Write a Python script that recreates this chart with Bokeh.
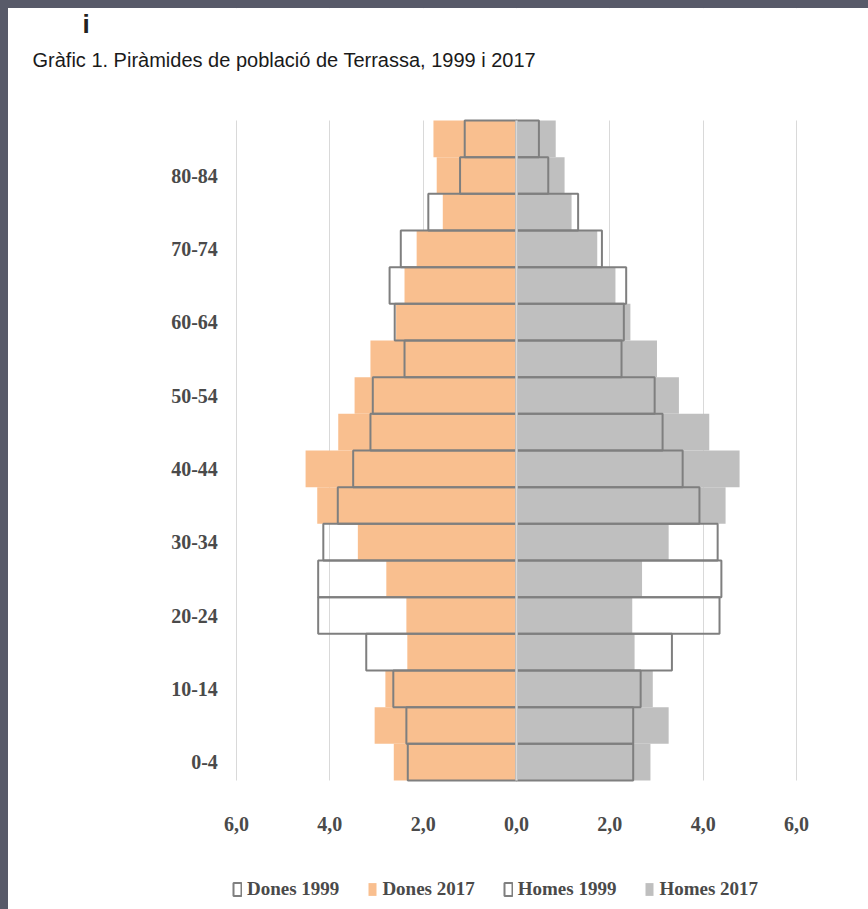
from bokeh.plotting import figure
from bokeh.models import (Range1d, FixedTicker, Legend, LegendItem, Label,
                          BoxAnnotation, ColumnDataSource)
from bokeh.embed import file_html
from bokeh.resources import INLINE

# ---- data (percent of population), index 0 = youngest group ----
age_groups = ["0-4", "5-9", "10-14", "15-19", "20-24", "25-29", "30-34", "35-39",
              "40-44", "45-49", "50-54", "55-59", "60-64", "65-69", "70-74",
              "75-79", "80-84", "85+"]
dones_1999 = [2.33, 2.36, 2.64, 3.22, 4.25, 4.25, 4.14, 3.83, 3.50, 3.13, 3.08,
              2.40, 2.61, 2.72, 2.48, 1.89, 1.21, 1.11]
dones_2017 = [2.63, 3.04, 2.81, 2.34, 2.36, 2.79, 3.40, 4.27, 4.52, 3.82, 3.47,
              3.13, 2.58, 2.40, 2.14, 1.58, 1.71, 1.78]
homes_1999 = [2.50, 2.50, 2.66, 3.33, 4.35, 4.39, 4.31, 3.92, 3.56, 3.13, 2.96,
              2.25, 2.30, 2.35, 1.83, 1.32, 0.68, 0.48]
homes_2017 = [2.87, 3.26, 2.92, 2.53, 2.48, 2.69, 3.26, 4.48, 4.78, 4.13, 3.48,
              3.01, 2.44, 2.12, 1.73, 1.18, 1.03, 0.84]
x_ticks = [-6, -4, -2, 0, 2, 4, 6]
x_tick_labels = ["6,0", "4,0", "2,0", "0,0", "2,0", "4,0", "6,0"]
title_text = "Gràfic 1. Piràmides de població de Terrassa, 1999 i 2017"

LABEL_FONT = "Liberation Serif"
TITLE_FONT = "Liberation Sans"
LABEL_COLOR = "#4a4a4a"

pos = list(range(len(age_groups)))
bars_bottom = pos[0] - 0.5
bars_top = pos[-1] + 0.5
src = ColumnDataSource(dict(
    y=pos,
    d99=[-v for v in dones_1999],
    d17=[-v for v in dones_2017],
    h99=homes_1999,
    h17=homes_2017,
))

# The plot frame fills the whole figure; title, tick labels and legend
# sit inside it around the bar area.
p = figure(width=852, height=893,
           x_range=Range1d(-10.886, 7.371), y_range=Range1d(-3.80, 20.555),
           output_backend="svg", toolbar_location=None,
           min_border_left=0, min_border_right=0,
           min_border_top=0, min_border_bottom=0)
p.outline_line_color = None
p.background_fill_color = "white"
p.border_fill_color = "white"

# grid, hidden above and below the bars by white underlay boxes
p.ygrid.visible = False
p.xgrid.ticker = FixedTicker(ticks=x_ticks)
p.xgrid.grid_line_color = "#d9d9d9"
p.xgrid.grid_line_width = 1
p.add_layout(BoxAnnotation(top=bars_bottom, fill_color="white", fill_alpha=1,
                           line_color=None, level="underlay"))
p.add_layout(BoxAnnotation(bottom=bars_top, fill_color="white", fill_alpha=1,
                           line_color=None, level="underlay"))

# x axis drawn at the bottom of the bars
p.xaxis.fixed_location = bars_bottom
p.xaxis.ticker = FixedTicker(ticks=x_ticks)
p.xaxis.major_label_overrides = {t: l for t, l in zip(x_ticks, x_tick_labels)}
p.xaxis.axis_line_color = None
p.xaxis.major_tick_line_color = None
p.xaxis.minor_tick_line_color = None
p.xaxis.major_label_standoff = 30
p.xaxis.major_label_text_font = LABEL_FONT
p.xaxis.major_label_text_font_style = "bold"
p.xaxis.major_label_text_font_size = "20px"
p.xaxis.major_label_text_color = LABEL_COLOR

# y axis drawn just left of the plotted area; label every other age group
y_ticks = pos[0::2]
p.yaxis.fixed_location = x_ticks[0] - 0.1
p.yaxis.ticker = FixedTicker(ticks=y_ticks)
p.yaxis.major_label_overrides = {t: age_groups[t] for t in y_ticks}
p.yaxis.axis_line_color = None
p.yaxis.major_tick_line_color = None
p.yaxis.minor_tick_line_color = None
p.yaxis.major_label_standoff = 8
p.yaxis.major_label_text_font = LABEL_FONT
p.yaxis.major_label_text_font_style = "bold"
p.yaxis.major_label_text_font_size = "20px"
p.yaxis.major_label_text_color = LABEL_COLOR

# bars: 2017 filled, 1999 as outlines on top
r_d17 = p.hbar(y="y", left="d17", right=0, height=1, source=src,
               fill_color="#F9BF8F", line_color=None)
r_h17 = p.hbar(y="y", left=0, right="h17", height=1, source=src,
               fill_color="#BFBFBF", line_color=None)
r_d99 = p.hbar(y="y", left="d99", right=0, height=1, source=src,
               fill_color="white", fill_alpha=0, line_color="#7f7f7f", line_width=2)
r_h99 = p.hbar(y="y", left=0, right="h99", height=1, source=src,
               fill_color="white", fill_alpha=0, line_color="#7f7f7f", line_width=2)

# light vertical axis line at zero, over the bars
p.add_layout(BoxAnnotation(left=-0.025, right=0.025, bottom=bars_bottom,
                           top=bars_top, fill_color="#d9d9d9", fill_alpha=1,
                           line_color=None))

legend = Legend(items=[
    LegendItem(label="Dones 1999", renderers=[r_d99]),
    LegendItem(label="Dones 2017", renderers=[r_d17]),
    LegendItem(label="Homes 1999", renderers=[r_h99]),
    LegendItem(label="Homes 2017", renderers=[r_h17]),
], location=(224, 1), orientation="horizontal", padding=0, margin=0,
    spacing=28, glyph_width=10, glyph_height=16, label_standoff=5,
    border_line_color=None, background_fill_alpha=0,
    label_text_font=LABEL_FONT, label_text_font_size="19px",
    label_text_color=LABEL_COLOR, label_text_font_style="bold")
p.add_layout(legend)

# title and stray character above it
p.add_layout(Label(x=-10.372, y=19.14, text=title_text, text_align="left",
                   text_baseline="alphabetic", text_font=TITLE_FONT,
                   text_font_size="20px", text_color="#1a1a1a"))
p.add_layout(Label(x=-9.300, y=20.12, text="i", text_align="left",
                   text_baseline="alphabetic", text_font="Liberation Sans",
                   text_font_style="bold", text_font_size="26px",
                   text_color="#222222"))

html = file_html(p, INLINE, title="Piràmides de població de Terrassa")
html = html.replace(
    "<head>",
    "<head>\n<style>body{margin:0;border-top:8px solid #585a69;"
    "border-left:8px solid #585a69;min-height:calc(100vh - 8px);"
    "background:white;}</style>", 1)
open("out.html", "w").write(html)
